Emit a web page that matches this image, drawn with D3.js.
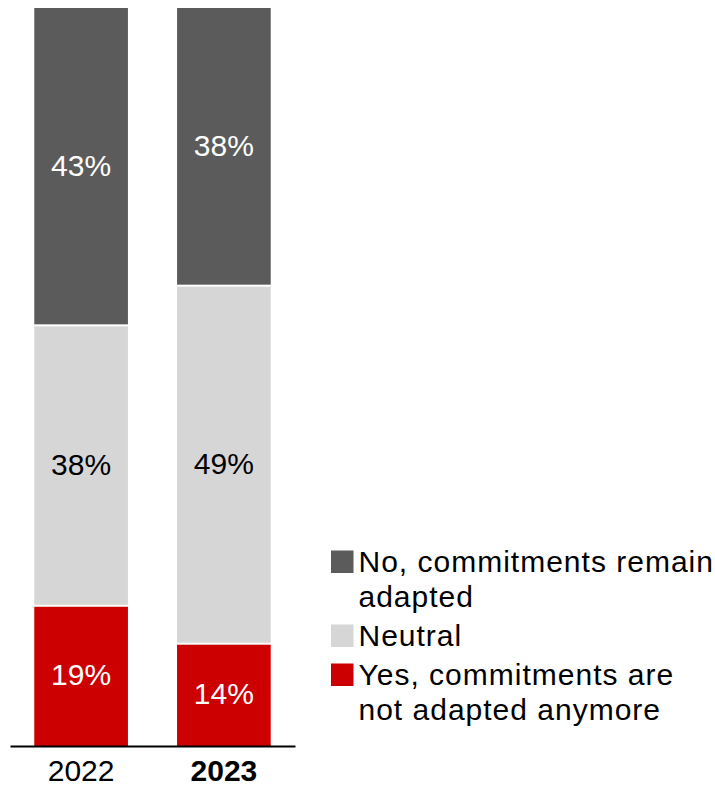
<!DOCTYPE html>
<html>
<head>
<meta charset="utf-8">
<script src="https://cdn.jsdelivr.net/npm/d3@7"></script>
<style>
  html, body { margin: 0; padding: 0; background: #fff; }
  svg { display: block; font-family: "Liberation Sans", Arial, Helvetica, sans-serif; }
</style>
</head>
<body>
<svg id="chart" width="715" height="785"></svg>
<script>
// Survey years on the x axis
const years = ["2022", "2023"];
// Response series, stacked bottom to top
const seriesKeys = ["yes", "neutral", "no"];
const seriesLabels = {
  no: ["No, commitments remain", "adapted"],
  neutral: ["Neutral"],
  yes: ["Yes, commitments are", "not adapted anymore"]
};
// Shares in percent per year
const yesValues = [19, 14];
const neutralValues = [38, 49];
const noValues = [43, 38];
const boldYear = "2023";

const colors = { no: "#5b5b5b", neutral: "#d6d6d6", yes: "#cc0000" };
const labelColors = { no: "#ffffff", neutral: "#000000", yes: "#ffffff" };

const rows = years.map((yr, i) => ({
  year: yr, yes: yesValues[i], neutral: neutralValues[i], no: noValues[i]
}));

// Each bar fills the full height: values are shares of that bar's total
const normRows = rows.map(r => {
  const total = seriesKeys.reduce((s, k) => s + r[k], 0);
  const o = { year: r.year };
  seriesKeys.forEach(k => { o[k] = r[k] / total; });
  return o;
});
const stacked = d3.stack().keys(seriesKeys)(normRows);

const svg = d3.select("#chart");
const x = d3.scaleBand().domain(years).range([10, 295]).paddingInner(0.344).paddingOuter(0.17);
const y = d3.scaleLinear().domain([0, 1]).range([746, 8]);
const gap = 1;

const layers = svg.append("g").selectAll("g")
  .data(stacked).join("g")
  .attr("fill", d => colors[d.key]);

layers.selectAll("rect")
  .data(d => d.map(p => ({ p, key: d.key })))
  .join("rect")
  .attr("x", d => x(d.p.data.year))
  .attr("width", x.bandwidth())
  .attr("y", d => y(d.p[1]) + (d.p[1] < 0.9999 ? gap : 0))
  .attr("height", d => {
    const top = y(d.p[1]) + (d.p[1] < 0.9999 ? gap : 0);
    const bottom = y(d.p[0]) - (d.p[0] > 0.0001 ? gap : 0);
    return bottom - top;
  });

// Value labels centred in each segment
const raw = { yes: yesValues, neutral: neutralValues, no: noValues };
stacked.forEach(layer => {
  svg.append("g").selectAll("text")
    .data(layer).join("text")
    .attr("x", d => x(d.data.year) + x.bandwidth() / 2)
    .attr("y", d => (y(d[0]) + y(d[1])) / 2 + 9.5)
    .attr("text-anchor", "middle")
    .attr("font-size", 30)
    .attr("fill", labelColors[layer.key])
    .text((d, i) => raw[layer.key][i] + "%");
});

// Baseline axis with year labels
const xAxis = d3.axisBottom(x).tickSize(0).tickPadding(0);
const axisG = svg.append("g").attr("transform", "translate(0,746)").call(xAxis);
axisG.select(".domain").attr("stroke", "#000").attr("stroke-width", 2);
axisG.selectAll(".tick text")
  .attr("font-family", "Liberation Sans, Arial, sans-serif")
  .attr("font-size", 30)
  .attr("fill", "#000")
  .attr("dy", null)
  .attr("y", 35)
  .attr("font-weight", d => d === boldYear ? "bold" : "normal");

// Legend, top to bottom
const legendOrder = ["no", "neutral", "yes"];
const legendTop = [572, 646, 685];
const lineH = 35;
const legend = svg.append("g");
legendOrder.forEach((k, i) => {
  const base = legendTop[i];
  legend.append("rect")
    .attr("x", 331).attr("y", base - 21.5)
    .attr("width", 22.5).attr("height", 22.5)
    .attr("fill", colors[k]);
  const t = legend.append("text")
    .attr("x", 358.5).attr("y", base)
    .attr("font-size", 30).attr("letter-spacing", 1).attr("fill", "#000");
  seriesLabels[k].forEach((line, j) => {
    t.append("tspan").attr("x", 358.5).attr("y", base + j * lineH).text(line);
  });
});
</script>
</body>
</html>
